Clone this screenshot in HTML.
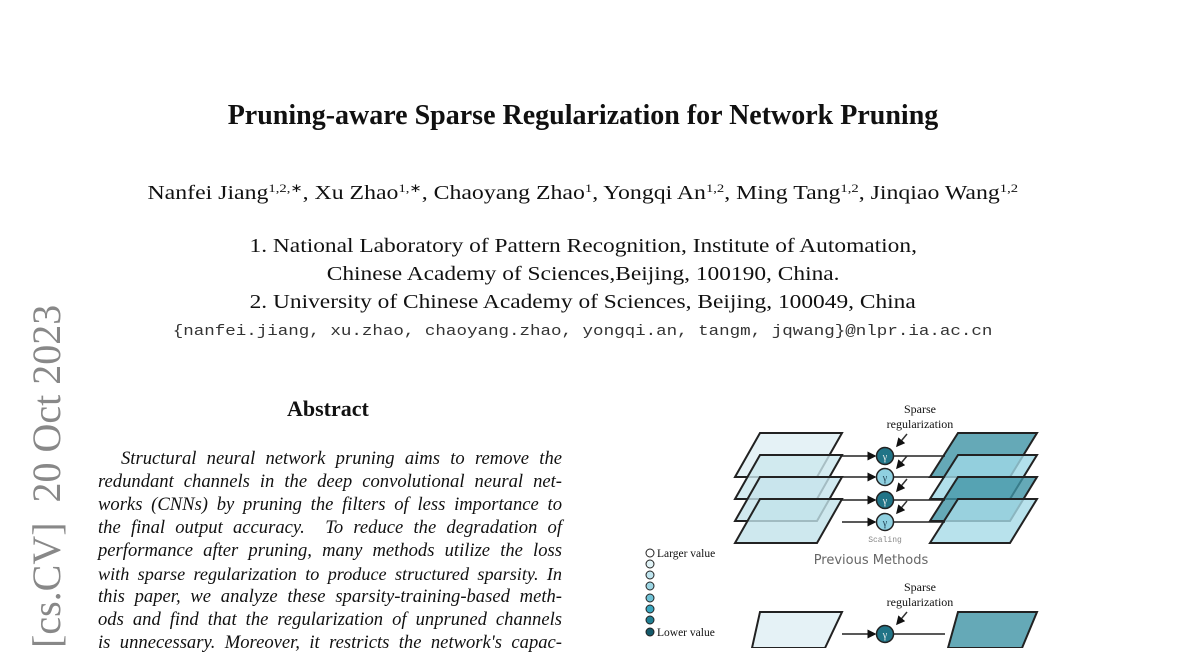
<!DOCTYPE html>
<html><head><meta charset="utf-8"><style>
body{margin:0;width:1200px;height:648px;overflow:hidden;background:#fff;position:relative;font-family:"Liberation Serif",serif;color:#111}
.a{position:absolute;white-space:nowrap}
.c{position:absolute;left:0;width:1166px;text-align:center;white-space:nowrap}
.c span{display:inline-block}
.l{position:absolute;left:98px;width:464px;font-style:italic;font-size:18.6px;text-align:justify;text-align-last:justify;white-space:nowrap;line-height:20px}
sup{font-size:12px;vertical-align:7px;line-height:0}
</style></head><body>
<div class="c" style="top:100px;font-size:28px;font-weight:bold"><span>Pruning-aware Sparse Regularization for Network Pruning</span></div>
<div class="c" style="top:183px;font-size:19.5px"><span style="transform:scaleX(1.22)">Nanfei Jiang<sup>1,2,∗</sup>, Xu Zhao<sup>1,∗</sup>, Chaoyang Zhao<sup>1</sup>, Yongqi An<sup>1,2</sup>, Ming Tang<sup>1,2</sup>, Jinqiao Wang<sup>1,2</sup></span></div>
<div class="c" style="top:235px;font-size:20px"><span style="transform:scaleX(1.17)">1. National Laboratory of Pattern Recognition, Institute of Automation,</span></div>
<div class="c" style="top:263px;font-size:20px"><span style="transform:scaleX(1.17)">Chinese Academy of Sciences,Beijing, 100190, China.</span></div>
<div class="c" style="top:291px;font-size:20px"><span style="transform:scaleX(1.17)">2. University of Chinese Academy of Sciences, Beijing, 100049, China</span></div>
<div class="c" style="top:324px;font-size:14.6px;font-family:'Liberation Mono',monospace;color:#333"><span style="transform:scaleX(1.2)">{nanfei.jiang, xu.zhao, chaoyang.zhao, yongqi.an, tangm, jqwang}@nlpr.ia.ac.cn</span></div>
<div class="a" style="left:287px;top:396px;font-size:22px;font-weight:bold">Abstract</div>
<div class="l" style="top:449px;left:121px;width:441px">Structural neural network pruning aims to remove the</div>
<div class="l" style="top:472px">redundant channels in the deep convolutional neural net-</div>
<div class="l" style="top:495px">works (CNNs) by pruning the filters of less importance to</div>
<div class="l" style="top:518px">the final output accuracy.&nbsp; To reduce the degradation of</div>
<div class="l" style="top:541px">performance after pruning, many methods utilize the loss</div>
<div class="l" style="top:564px;font-size:18.2px">with sparse regularization to produce structured sparsity. In</div>
<div class="l" style="top:587px">this paper, we analyze these sparsity-training-based meth-</div>
<div class="l" style="top:610px">ods and find that the regularization of unpruned channels</div>
<div class="l" style="top:633px">is unnecessary. Moreover, it restricts the network's capac-</div>
<div class="a" style="left:27px;top:648px;transform-origin:0 0;transform:rotate(-90deg);font-size:40px;color:#888;line-height:40px">[cs.CV]&nbsp;&nbsp;20 Oct 2023</div>
<svg class="a" style="left:0;top:0" width="1200" height="648" font-family="Liberation Serif,serif">
<defs><marker id="ar" markerWidth="6" markerHeight="6" refX="5" refY="3" orient="auto"><path d="M0,0L6,3L0,6z" fill="#111"/></marker></defs>
<g stroke="#222" stroke-width="2" fill-opacity="0.8">
<polygon points="760,433 842,433 817,477 735,477" fill="#dfeff4"/>
<polygon points="760,455 842,455 817,499 735,499" fill="#cce7ee"/>
<polygon points="760,477 842,477 817,521 735,521" fill="#c6e4ec"/>
<polygon points="760,499 842,499 817,543 735,543" fill="#c2e2ea"/>
<polygon points="958,433 1037,433 1010,477 930,477" fill="#3f93a5"/>
<polygon points="958,455 1037,455 1010,499 930,499" fill="#9fd8e6"/>
<polygon points="958,477 1037,477 1010,521 930,521" fill="#3f93a5"/>
<polygon points="958,499 1037,499 1010,543 930,543" fill="#a6dbe7"/>
<polygon points="760,612 842,612 825,648 752,648" fill="#dfeff4"/>
<polygon points="958,612 1037,612 1022,648 948,648" fill="#3f93a5"/>
</g>
<g stroke="#222" stroke-width="1.5">
<line x1="842" y1="456" x2="875" y2="456" marker-end="url(#ar)"/>
<line x1="842" y1="477" x2="875" y2="477" marker-end="url(#ar)"/>
<line x1="842" y1="500" x2="875" y2="500" marker-end="url(#ar)"/>
<line x1="842" y1="522" x2="875" y2="522" marker-end="url(#ar)"/>
<line x1="894" y1="456" x2="945" y2="456"/>
<line x1="894" y1="477" x2="945" y2="477"/>
<line x1="894" y1="500" x2="945" y2="500"/>
<line x1="894" y1="522" x2="945" y2="522"/>
<line x1="842" y1="634" x2="875" y2="634" marker-end="url(#ar)"/>
<line x1="894" y1="634" x2="945" y2="634"/>
<circle cx="885" cy="456" r="8.5" fill="#217487"/>
<circle cx="885" cy="477" r="8.5" fill="#8fd0e0"/>
<circle cx="885" cy="500" r="8.5" fill="#217487"/>
<circle cx="885" cy="522" r="8.5" fill="#8fd0e0"/>
<circle cx="885" cy="634" r="8.5" fill="#217487"/>
</g>
<g stroke="#333" stroke-width="1.5" fill="none">
<line x1="907" y1="434" x2="897" y2="446" marker-end="url(#ar)"/>
<line x1="907" y1="456" x2="897" y2="468" marker-end="url(#ar)"/>
<line x1="907" y1="479" x2="897" y2="491" marker-end="url(#ar)"/>
<line x1="907" y1="501" x2="897" y2="513" marker-end="url(#ar)"/>
<line x1="907" y1="612" x2="897" y2="624" marker-end="url(#ar)"/>
</g>
<g font-size="10" fill="#eee" text-anchor="middle"><text x="885" y="460">γ</text><text x="885" y="481" fill="#245">γ</text><text x="885" y="504">γ</text><text x="885" y="526" fill="#245">γ</text><text x="885" y="638">γ</text></g>
<g font-size="12" text-anchor="middle" fill="#111"><text x="920" y="413">Sparse</text><text x="920" y="428">regularization</text><text x="920" y="591">Sparse</text><text x="920" y="606">regularization</text></g>
<text x="885" y="542" font-size="8" fill="#888" text-anchor="middle" font-family="Liberation Mono,monospace">Scaling</text>
<text x="871" y="564" font-size="13" fill="#666" text-anchor="middle" font-family="DejaVu Sans,sans-serif">Previous Methods</text>
<g stroke="#222" stroke-width="1">
<circle cx="650" cy="553" r="4" fill="#fff"/><circle cx="650" cy="564" r="4" fill="#e0f2f6"/><circle cx="650" cy="575" r="4" fill="#bfe4ee"/><circle cx="650" cy="586" r="4" fill="#9dd6e4"/><circle cx="650" cy="598" r="4" fill="#6fc2d6"/><circle cx="650" cy="609" r="4" fill="#3aa6bf"/><circle cx="650" cy="620" r="4" fill="#217f93"/><circle cx="650" cy="632" r="4" fill="#14596a"/>
</g>
<text x="657" y="557" font-size="11.5" fill="#111">Larger value</text>
<text x="657" y="636" font-size="11.5" fill="#111">Lower value</text>
</svg>
</body></html>
